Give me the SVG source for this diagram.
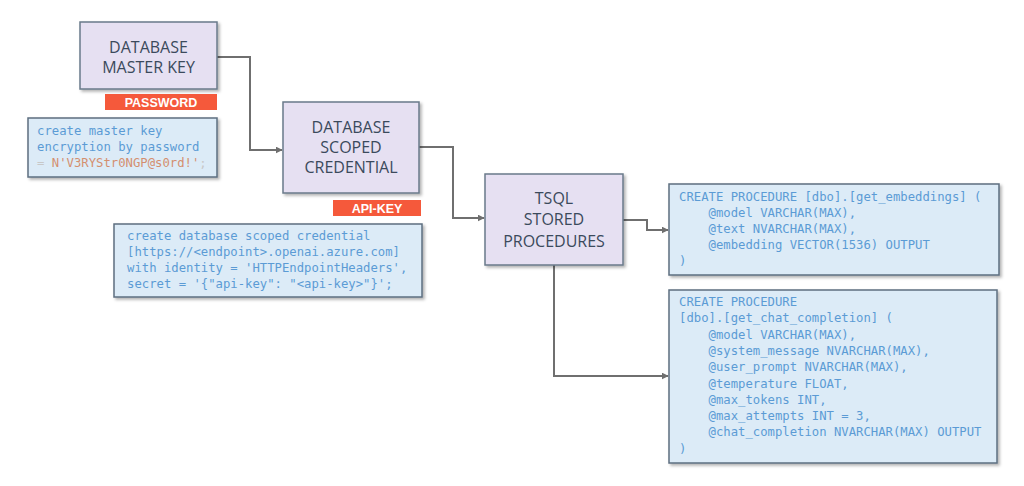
<svg xmlns="http://www.w3.org/2000/svg" width="1024" height="486" viewBox="0 0 1024 486">
<defs>
<filter id="sh" x="-10%" y="-10%" width="125%" height="130%">
<feDropShadow dx="2" dy="2" stdDeviation="1.5" flood-color="#000" flood-opacity="0.3"/>
</filter>
<marker id="ah" viewBox="0 0 10 10" refX="9" refY="5" markerWidth="7" markerHeight="7" markerUnits="userSpaceOnUse" orient="auto">
<path d="M0,0 L10,5 L0,10 z" fill="#6f6f6f"/>
</marker>
</defs>
<style>
.node{fill:#e6e0f2;stroke:#6a7a8a;stroke-width:1.5;filter:url(#sh)}
.code{fill:#dcebf7;stroke:#5d6f80;stroke-width:1.5;filter:url(#sh)}
.nt{font-family:"Open Sans","Liberation Sans",Arial,sans-serif;font-size:16px;fill:#3b4a5c;text-anchor:middle}
.badge{fill:#f5593b}
.bt{font-family:"Liberation Sans",Arial,sans-serif;font-size:12.5px;font-weight:bold;fill:#fff;text-anchor:middle}
.ct{font-family:"DejaVu Sans Mono","Liberation Mono",monospace;font-size:12.25px;fill:#5b9bd5;white-space:pre}
.str{fill:#d48f6f}
.pun{fill:#c8c8c8}
.con{fill:none;stroke:#6f6f6f;stroke-width:2}
</style>
<g id="connectors">
<path class="con" d="M217,57 H250 V150 H282" marker-end="url(#ah)"/>
<path class="con" d="M419,147 H453 V218 H484" marker-end="url(#ah)"/>
<path class="con" d="M623,220 H647 V230 H668" marker-end="url(#ah)"/>
<path class="con" d="M554,265 V376 H668" marker-end="url(#ah)"/>
</g>
<g id="master-key">
<rect class="node" x="80" y="22" width="137" height="67"/>
<text class="nt" x="148.5" y="52.5">DATABASE</text>
<text class="nt" x="148.5" y="72.5">MASTER KEY</text>
</g>
<g id="password-badge">
<rect class="badge" x="105" y="94" width="112" height="16"/>
<text class="bt" x="161" y="106.5">PASSWORD</text>
</g>
<g id="master-key-code">
<rect class="code" x="28" y="118" width="189" height="59"/>
<text class="ct" x="37" y="135">create master key</text>
<text class="ct" x="37" y="151">encryption by password</text>
<text class="ct" x="37" y="167"><tspan class="pun">= </tspan><tspan class="str">N'V3RYStr0NGP@s0rd!'</tspan><tspan class="pun">;</tspan></text>
</g>
<g id="scoped-credential">
<rect class="node" x="283" y="102" width="136" height="91"/>
<text class="nt" x="351" y="132.5">DATABASE</text>
<text class="nt" x="351" y="152.5">SCOPED</text>
<text class="nt" x="351" y="172.5">CREDENTIAL</text>
</g>
<g id="api-key-badge">
<rect class="badge" x="333" y="200" width="88" height="16"/>
<text class="bt" x="377" y="212.5">API-KEY</text>
</g>
<g id="credential-code">
<rect class="code" x="114" y="224" width="308" height="73"/>
<text class="ct" x="127" y="240">create database scoped credential</text>
<text class="ct" x="127" y="256">[https://&lt;endpoint&gt;.openai.azure.com]</text>
<text class="ct" x="127" y="272">with identity = 'HTTPEndpointHeaders',</text>
<text class="ct" x="127" y="288">secret = '{"api-key": "&lt;api-key&gt;"}';</text>
</g>
<g id="stored-procedures">
<rect class="node" x="485" y="174" width="138" height="91"/>
<text class="nt" x="554" y="203.5">TSQL</text>
<text class="nt" x="554" y="225">STORED</text>
<text class="nt" x="554" y="246.5">PROCEDURES</text>
</g>
<g id="get-embeddings">
<rect class="code" x="669" y="184" width="330" height="91"/>
<text class="ct" x="679" y="201">CREATE PROCEDURE [dbo].[get_embeddings] (</text>
<text class="ct" x="679" y="217">    @model VARCHAR(MAX),</text>
<text class="ct" x="679" y="233">    @text NVARCHAR(MAX),</text>
<text class="ct" x="679" y="249">    @embedding VECTOR(1536) OUTPUT</text>
<text class="ct" x="679" y="265">)</text>
</g>
<g id="get-chat-completion">
<rect class="code" x="669" y="290" width="328" height="173"/>
<text class="ct" x="679" y="306">CREATE PROCEDURE</text>
<text class="ct" x="679" y="322.3">[dbo].[get_chat_completion] (</text>
<text class="ct" x="679" y="338.6">    @model VARCHAR(MAX),</text>
<text class="ct" x="679" y="354.9">    @system_message NVARCHAR(MAX),</text>
<text class="ct" x="679" y="371.2">    @user_prompt NVARCHAR(MAX),</text>
<text class="ct" x="679" y="387.5">    @temperature FLOAT,</text>
<text class="ct" x="679" y="403.8">    @max_tokens INT,</text>
<text class="ct" x="679" y="420.1">    @max_attempts INT = 3,</text>
<text class="ct" x="679" y="436.4">    @chat_completion NVARCHAR(MAX) OUTPUT</text>
<text class="ct" x="679" y="452.7">)</text>
</g>
</svg>
